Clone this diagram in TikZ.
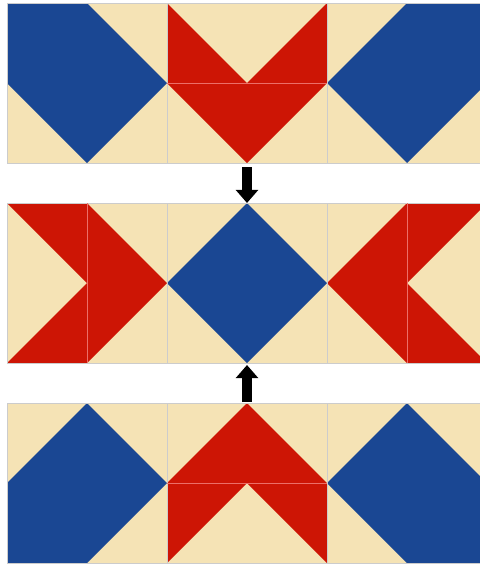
\documentclass[tikz,border=0pt]{standalone}
\usepackage{xcolor}
\usepackage{tikz}
\usetikzlibrary{arrows.meta}
\definecolor{quiltblue}{RGB}{26,71,147}
\definecolor{quiltred}{RGB}{205,21,5}
\definecolor{quiltcream}{RGB}{245,227,181}
\begin{document}
\begin{tikzpicture}[
    x=0.02cm,y=-0.02cm,
    ground/.style={fill=quiltcream},
    bluepatch/.style={fill=quiltblue},
    redpatch/.style={fill=quiltred},
    seam/.style={gray!40,line width=0.3pt},
    redseam/.style={red!35!quiltred!60!white,line width=0.3pt},
    push/.style={line width=6pt,-{Triangle[width=12.5pt,length=7.5pt]}},
  ]
  \useasboundingbox (0,0) rectangle (480,565);
  \begin{scope}
  \clip (0,0) rectangle (480,565);

  % cream ground of the three rows
  \foreach \y in {3,203,403} {
     \fill[ground] (7,\y) rectangle (487,\y+160);
  }

  % row 1: diamond, V, diamond
  \fill[bluepatch] (7,3) -- (87,3) -- (167,83) -- (87,163) -- (7,83) -- cycle;
  \fill[redpatch]  (167,3) -- (247,83) -- (167,83) -- cycle;
  \fill[redpatch]  (327,3) -- (327,83) -- (247,83) -- cycle;
  \fill[redpatch]  (167,83) -- (327,83) -- (247,163) -- cycle;
  \fill[bluepatch] (327,83) -- (407,3) -- (487,3) -- (487,83) -- (407,163) -- cycle;

  % row 2: arrow, diamond, arrow
  \fill[redpatch]  (7,203) -- (87,203) -- (87,283) -- cycle;
  \fill[redpatch]  (7,363) -- (87,283) -- (87,363) -- cycle;
  \fill[redpatch]  (87,203) -- (167,283) -- (87,363) -- cycle;
  \fill[bluepatch] (247,203) -- (327,283) -- (247,363) -- (167,283) -- cycle;
  \fill[redpatch]  (407,203) -- (327,283) -- (407,363) -- cycle;
  \fill[redpatch]  (407,203) -- (487,203) -- (407,283) -- cycle;
  \fill[redpatch]  (407,283) -- (487,363) -- (407,363) -- cycle;

  % row 3: diamond, chevron, diamond
  \fill[bluepatch] (87,403) -- (167,483) -- (87,563) -- (7,563) -- (7,483) -- cycle;
  \fill[redpatch]  (167,483) -- (247,403) -- (327,483) -- cycle;
  \fill[redpatch]  (167,483) -- (247,483) -- (167,563) -- cycle;
  \fill[redpatch]  (247,483) -- (327,483) -- (327,563) -- cycle;
  \fill[bluepatch] (327,483) -- (407,403) -- (487,483) -- (487,563) -- (407,563) -- cycle;

  % seams
  \foreach \y in {3,203,403} {
     \foreach \x in {7,167,327} {
        \draw[seam] (\x,\y) rectangle (\x+160,\y+160);
     }
  }
  \draw[redseam] (167,83) -- (327,83);
  \draw[redseam] (167,483) -- (327,483);
  \draw[redseam] (87,203) -- (87,363);
  \draw[redseam] (407,203) -- (407,363);
  \end{scope}

  % push arrows towards the middle row
  \coordinate (vbottom)  at (247,167);
  \coordinate (midtop)   at (247,203);
  \coordinate (chevtop)  at (247,402);
  \coordinate (midbottom) at (247,365);
  \draw[push] (vbottom) -- (midtop);
  \draw[push] (chevtop) -- (midbottom);
\end{tikzpicture}
\end{document}
